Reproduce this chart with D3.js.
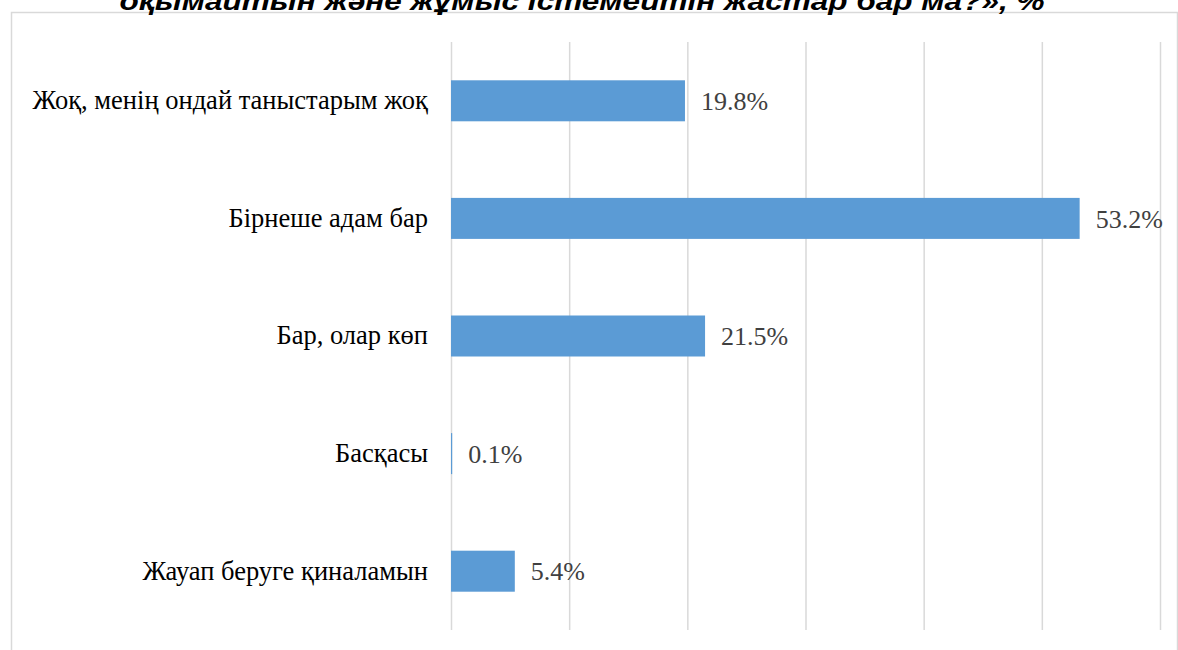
<!DOCTYPE html>
<html>
<head>
<meta charset="utf-8">
<script src="https://cdn.jsdelivr.net/npm/d3@7"></script>
<style>
  body { margin: 0; background: #fff; }
  svg { display: block; }
</style>
</head>
<body>
<svg id="chart" width="1178" height="650"></svg>
<script>
// data
var categories = [
    "Жоқ, менің ондай таныстарым жоқ",
    "Бірнеше адам бар",
    "Бар, олар көп",
    "Басқасы",
    "Жауап беруге қиналамын"
];
var values = [19.8, 53.2, 21.5, 0.1, 5.4];
var xTicks = [0, 10, 20, 30, 40, 50, 60];
var titleText = "оқымайтын және жұмыс істемейтін жастар бар ма?», %";

var svg = d3.select("#chart");
var margin = {top: 42, right: 18, bottom: 20, left: 451};

// outer frame of the chart area (bottom runs off the picture)
svg.append("rect")
    .attr("x", 11.5).attr("y", 12.5)
    .attr("width", 1166).attr("height", 660)
    .attr("fill", "none")
    .attr("stroke", "#d9d9d9")
    .attr("stroke-width", 1.5);

// title, mostly cut off at top
svg.append("text")
    .attr("x", 582).attr("y", 10)
    .attr("text-anchor", "middle")
    .attr("font-family", "Liberation Sans, Arial, sans-serif")
    .attr("font-weight", "bold")
    .attr("font-style", "italic")
    .attr("font-size", 26)
    .attr("textLength", 925)
    .attr("lengthAdjust", "spacingAndGlyphs")
    .attr("fill", "#000")
    .text(titleText);

var x = d3.scaleLinear()
    .domain([0, 60])
    .range([margin.left, 1160]);

var y = d3.scaleBand()
    .domain(categories)
    .range([margin.top, 630])
    .padding(0);

// grid lines
var xAxis = d3.axisBottom(x).tickValues(xTicks).tickSize(-(630 - margin.top)).tickFormat("");
var gx = svg.append("g")
    .attr("transform", "translate(0,630)")
    .call(xAxis);
gx.select(".domain").remove();
gx.selectAll(".tick line")
    .attr("stroke", "#d9d9d9")
    .attr("stroke-width", 1.5);

// bars
var barH = 41;
svg.selectAll("rect.bar")
    .data(values)
    .enter().append("rect")
    .attr("class", "bar")
    .attr("x", x(0))
    .attr("y", function(d, i) { return y(categories[i]) + y.bandwidth() / 2 - barH / 2; })
    .attr("width", function(d) { return x(d) - x(0); })
    .attr("height", barH)
    .attr("fill", "#5b9bd5");

// value labels
svg.selectAll("text.val")
    .data(values)
    .enter().append("text")
    .attr("class", "val")
    .attr("x", function(d) { return x(d) + 16; })
    .attr("y", function(d, i) { return y(categories[i]) + y.bandwidth() / 2; })
    .attr("dy", "0.35em")
    .attr("font-family", "Liberation Serif, Times New Roman, serif")
    .attr("font-size", 26)
    .attr("fill", "#404040")
    .text(function(d) { return d.toFixed(1) + "%"; });

// category labels
var yAxis = d3.axisLeft(y).tickSize(0).tickPadding(23);
var gy = svg.append("g")
    .attr("transform", "translate(" + margin.left + ",0)")
    .call(yAxis);
gy.select(".domain").remove();
gy.selectAll("text")
    .attr("font-family", "Liberation Serif, Times New Roman, serif")
    .attr("font-size", 26.5)
    .attr("fill", "#000");
</script>
</body>
</html>
